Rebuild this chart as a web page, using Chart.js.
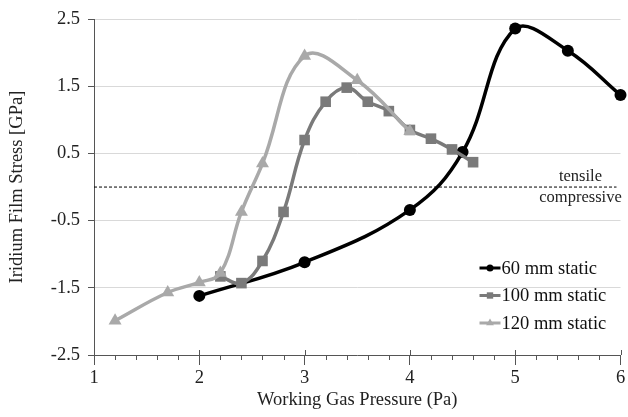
<!DOCTYPE html>
<html>
<head>
<meta charset="utf-8">
<script src="https://cdn.jsdelivr.net/npm/chart.js@4.4.0/dist/chart.umd.min.js"></script>
<style>
  html, body { margin: 0; padding: 0; background: #fff; }
  #wrap { width: 628px; height: 417px; }
</style>
</head>
<body>
<div id="wrap"><canvas id="stress"></canvas></div>
<script>
// data
const seriesNames = ['60 mm static', '100 mm static', '120 mm static'];
const p60 = [2, 3, 4, 4.5, 5, 5.5, 6];
const s60 = [-1.62, -1.12, -0.34, 0.52, 2.36, 2.03, 1.37];
const p100 = [2.2, 2.4, 2.6, 2.8, 3.0, 3.2, 3.4, 3.6, 3.8, 4.0, 4.2, 4.4, 4.6];
const s100 = [-1.33, -1.43, -1.1, -0.37, 0.7, 1.27, 1.48, 1.27, 1.13, 0.85, 0.72, 0.56, 0.37];
const p120 = [1.2, 1.7, 2.0, 2.2, 2.4, 2.6, 3.0, 3.5, 4.0];
const s120 = [-1.99, -1.57, -1.42, -1.28, -0.37, 0.35, 1.95, 1.59, 0.83];
const yTicks = [-2.5, -1.5, -0.5, 0.5, 1.5, 2.5];
const xTicks = [1, 2, 3, 4, 5, 6];

const FONT = "'Liberation Serif', 'Times New Roman', serif";
const colors = ['#000000', '#7a7a7a', '#a9a9a9'];
const styles = ['circle', 'rect', 'triangle'];
const radii = [6, 7.5, 7.5];

function pts(xs, ys) {
  return xs.map((x, i) => ({ x: x, y: ys[i] }));
}

const datasets = [pts(p60, s60), pts(p100, s100), pts(p120, s120)].map((d, i) => ({
  label: seriesNames[i],
  data: d,
  borderColor: colors[i],
  backgroundColor: colors[i],
  borderWidth: 3.5,
  pointStyle: styles[i],
  pointRadius: radii[i],
  pointBorderWidth: 0,
  tension: 0.4,
  clip: false
}));
// draw the light series first so the black one sits on top
datasets.reverse();

// extras: zero line, tensile/compressive text, minor ticks, legend
const extras = {
  id: 'extras',
  beforeDatasetsDraw(chart) {
    const ctx = chart.ctx;
    const x = chart.scales.x, y = chart.scales.y;
    const y0 = y.getPixelForValue(0);
    ctx.save();
    ctx.strokeStyle = '#000';
    ctx.lineWidth = 1;
    ctx.setLineDash([3, 2]);
    ctx.beginPath();
    ctx.moveTo(chart.chartArea.left, y0);
    ctx.lineTo(chart.chartArea.right - 4, y0);
    ctx.stroke();
    ctx.setLineDash([]);
    ctx.fillStyle = '#222';
    ctx.font = '16.5px ' + FONT;
    ctx.textAlign = 'center';
    ctx.textBaseline = 'bottom';
    ctx.fillText('tensile', x.getPixelForValue(5.62), y0 - 2);
    ctx.textBaseline = 'top';
    ctx.fillText('compressive', x.getPixelForValue(5.62), y0 + 2);

    // x axis minor ticks and inner half of major ticks
    const yb = chart.chartArea.bottom;
    ctx.strokeStyle = '#555';
    ctx.lineWidth = 1;
    ctx.beginPath();
    for (let v = 1; v <= 6.001; v += 0.2) {
      const px = Math.round(x.getPixelForValue(v)) + 0.5;
      const major = Math.abs(v - Math.round(v)) < 1e-6;
      if (major) {
        ctx.moveTo(px, yb - 5);
        ctx.lineTo(px, yb);
      } else {
        ctx.moveTo(px, yb);
        ctx.lineTo(px, yb + 5);
      }
    }
    ctx.stroke();
    ctx.restore();
  },
  afterDraw(chart) {
    const ctx = chart.ctx;
    const area = chart.chartArea;
    ctx.save();
    const lx = area.right - 141;
    seriesNames.forEach((name, i) => {
      const ly = area.bottom - 87 + i * 27.5;
      ctx.strokeStyle = colors[i];
      ctx.fillStyle = colors[i];
      ctx.lineWidth = 3;
      ctx.beginPath();
      ctx.moveTo(lx, ly);
      ctx.lineTo(lx + 21, ly);
      ctx.stroke();
      Chart.helpers.drawPoint(ctx, { pointStyle: styles[i], radius: i === 0 ? 3.5 : 4.5, borderWidth: 0, rotation: 0 }, lx + 10.5, ly);
      ctx.fillStyle = '#111';
      ctx.font = '18.5px ' + FONT;
      ctx.textAlign = 'left';
      ctx.textBaseline = 'middle';
      ctx.fillText(name, lx + 22, ly + 1);
    });
    ctx.restore();
  }
};

new Chart(document.getElementById('stress'), {
  type: 'line',
  data: { datasets: datasets },
  options: {
    responsive: true,
    maintainAspectRatio: false,
    animation: false,
    layout: { padding: { top: 13, right: 4, left: 0, bottom: 0 } },
    plugins: {
      legend: { display: false },
      tooltip: { enabled: false }
    },
    scales: {
      x: {
        type: 'linear',
        min: 1,
        max: 6,
        afterFit: (s) => { s.height = 62; },
        afterBuildTicks: (s) => { s.ticks = xTicks.map(v => ({ value: v })); },
        border: { display: true, color: '#555', width: 1 },
        grid: { drawOnChartArea: false, tickLength: 10, color: '#555' },
        ticks: { color: '#222', padding: 2, font: { family: FONT, size: 18.5 } },
        title: {
          display: true,
          text: 'Working Gas Pressure (Pa)',
          color: '#222',
          font: { family: FONT, size: 18.5 },
          padding: { top: 0, bottom: 6 }
        }
      },
      y: {
        min: -2.5,
        max: 2.5,
        afterFit: (s) => { s.width = 94; },
        afterBuildTicks: (s) => { s.ticks = yTicks.map(v => ({ value: v })); },
        border: { display: true, color: '#555', width: 1 },
        grid: { color: '#d9d9d9', tickColor: '#555', tickLength: 6 },
        ticks: {
          color: '#222',
          padding: 8,
          font: { family: FONT, size: 18.5 },
          callback: (v) => String(v)
        },
        title: {
          display: true,
          text: 'Iridium Film Stress [GPa]',
          color: '#222',
          font: { family: FONT, size: 18.5 },
          padding: { top: 6, bottom: 0 }
        }
      }
    }
  },
  plugins: [extras]
});
</script>
</body>
</html>
